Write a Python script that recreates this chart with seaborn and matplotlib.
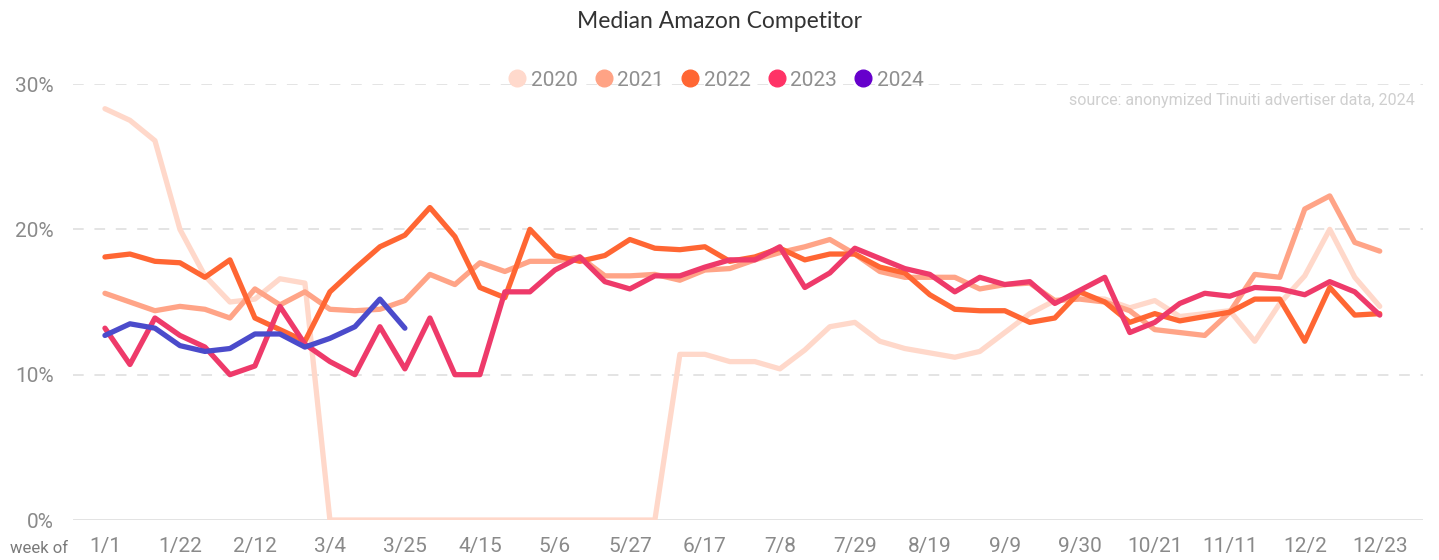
import matplotlib.pyplot as plt
import pandas as pd
import seaborn as sns
from matplotlib.lines import Line2D

# %% data (median competitor share, %, by week of year)
tick_labels = ["1/1", "1/22", "2/12", "3/4", "3/25", "4/15", "5/6", "5/27", "6/17",
               "7/8", "7/29", "8/19", "9/9", "9/30", "10/21", "11/11", "12/2", "12/23"]

y2020 = [28.3, 27.5, 26.1, 20.0, 16.8, 15.0, 15.2, 16.6, 16.3,
         0, 0, 0, 0, 0, 0, 0, 0, 0, 0, 0, 0, 0, 0,
         11.4, 11.4, 10.9, 10.9, 10.4, 11.7, 13.3, 13.6, 12.3, 11.8, 11.5, 11.2, 11.6,
         12.9, 14.2, 15.1, 15.3, 15.2, 14.6, 15.1, 14.0, 14.2, 14.4, 12.3, 14.9,
         16.8, 20.0, 16.7, 14.7]
y2021 = [15.6, 15.0, 14.4, 14.7, 14.5, 13.9, 15.9, 14.8, 15.7, 14.5, 14.4, 14.5,
         15.1, 16.9, 16.2, 17.7, 17.1, 17.8, 17.8, 18.1, 16.8, 16.8, 16.9, 16.5,
         17.2, 17.3, 17.9, 18.4, 18.8, 19.3, 18.3, 17.1, 16.7, 16.7, 16.7, 15.9,
         16.2, 16.3, 15.1, 15.2, 15.0, 14.4, 13.1, 12.9, 12.7, 14.3, 16.9, 16.7,
         21.4, 22.3, 19.1, 18.5]
y2022 = [18.1, 18.3, 17.8, 17.7, 16.7, 17.9, 13.9, 13.1, 12.3, 15.7, 17.3, 18.8,
         19.6, 21.5, 19.5, 16.0, 15.3, 20.0, 18.2, 17.8, 18.2, 19.3, 18.7, 18.6,
         18.8, 17.8, 18.1, 18.7, 17.9, 18.3, 18.3, 17.4, 17.0, 15.5, 14.5, 14.4,
         14.4, 13.6, 13.9, 15.7, 15.0, 13.6, 14.2, 13.7, 14.0, 14.3, 15.2, 15.2,
         12.3, 16.0, 14.1, 14.2]
y2023 = [13.2, 10.7, 13.9, 12.7, 11.9, 10.0, 10.6, 14.7, 12.1, 10.9, 10.0, 13.3,
         10.4, 13.9, 10.0, 10.0, 15.7, 15.7, 17.2, 18.1, 16.4, 15.9, 16.8, 16.8,
         17.4, 17.9, 17.9, 18.8, 16.0, 17.0, 18.7, 18.0, 17.3, 16.9, 15.7, 16.7,
         16.2, 16.4, 14.9, 15.8, 16.7, 12.9, 13.6, 14.9, 15.6, 15.4, 16.0, 15.9,
         15.5, 16.4, 15.7, 14.1]
y2024 = [12.7, 13.5, 13.2, 12.0, 11.6, 11.8, 12.8, 12.8, 11.9, 12.5, 13.3, 15.2, 13.2]

years = ["2020", "2021", "2022", "2023", "2024"]
series = [y2020, y2021, y2022, y2023, y2024]

line_colors = ["#FFD8CA", "#FFA487", "#FF6633", "#EE3A6A", "#4B4BCB"]
legend_colors = ["#FFD9CC", "#FFA385", "#FF6633", "#FF3366", "#6600CC"]

rows = []
for year, vals in zip(years, series):
    for week, v in enumerate(vals):
        rows.append({"week": week, "share": v, "year": year})
df = pd.DataFrame(rows)

# %% plot
sns.set_style("white")
plt.rcParams["font.family"] = ["Roboto", "DejaVu Sans"]

fig = plt.figure(figsize=(14.39, 5.6), dpi=100)
ax = fig.add_axes([0.0507, 0.0714, 0.938, 0.7786])

sns.lineplot(data=df, x="week", y="share", hue="year", palette=line_colors,
             linewidth=3.8, legend=False, ax=ax)

# grid and baseline
for g in [10, 20, 30]:
    ax.axhline(g, color="#dddddd", lw=1.1, ls=(0, (7, 7)), zorder=0)
ax.axhline(0, color="#e0e0e0", lw=2, zorder=0)

ax.set_xlim(-1.28, 52.72)
ax.set_ylim(0, 30)
ax.set_xticks(range(0, 52, 3))
ax.set_xticklabels(tick_labels)
ax.set_yticks([0, 10, 20, 30])
ax.set_yticklabels(["0%", "10%", "20%", "30%"])
ax.tick_params(axis="both", length=0, labelsize=15, labelcolor="#8a8a8a")
ax.tick_params(axis="x", pad=12)
ax.tick_params(axis="y", pad=14)
ax.set_xlabel("")
ax.set_ylabel("")
sns.despine(ax=ax, left=True, bottom=True)

# legend
handles = [Line2D([], [], ls="none", marker="o", markersize=12,
                  markerfacecolor=c, markeredgecolor=c) for c in legend_colors]
leg = fig.legend(handles, years, loc="center", bbox_to_anchor=(0.497, 0.857),
                 ncol=5, frameon=False, handletextpad=0.15, columnspacing=0.75,
                 handlelength=1.0, prop={"family": "Roboto", "size": 15})
for t in leg.get_texts():
    t.set_color("#8f8f8f")

fig.text(0.5, 0.962, "Median Amazon Competitor", ha="center", va="center",
         fontsize=16.5, color="#333333", family="Lato")
fig.text(0.9833, 0.821, "source: anonymized Tinuiti advertiser data, 2024", ha="right",
         va="center", fontsize=11.5, color="#cfcfcf")
fig.text(0.027, 0.021, "week of", ha="center", va="center", fontsize=12,
         color="#7a7a7a")

plt.savefig("out.png", dpi=100)
